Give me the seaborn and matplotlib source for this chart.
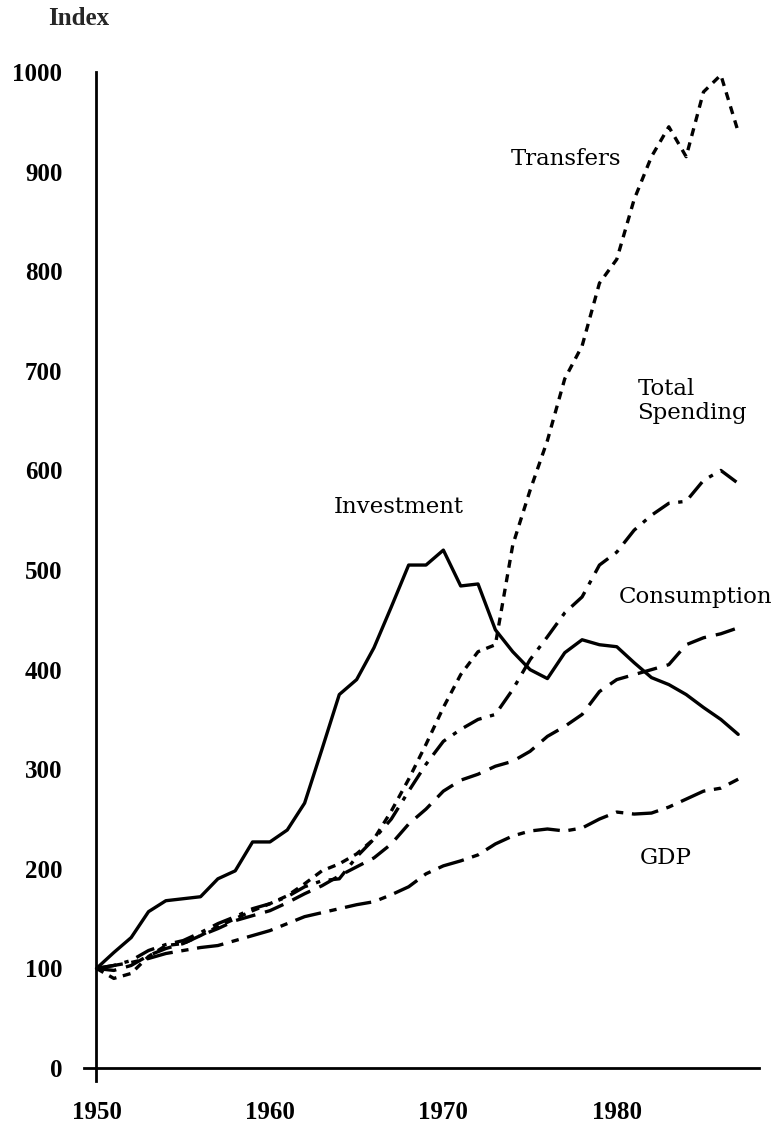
import matplotlib
matplotlib.use("Agg")
import matplotlib.pyplot as plt
import seaborn as sns
import pandas as pd

years = list(range(1950, 1988))

investment = [100, 116, 131, 157, 168, 170, 172, 190, 198, 227,
              227, 239, 266, 320, 375, 390, 422, 463, 505, 505,
              520, 484, 486, 440, 418, 400, 391, 417, 430, 425,
              423, 407, 392, 385, 375, 362, 350, 335]

transfers = [100, 90, 95, 112, 123, 125, 133, 142, 150, 158,
             165, 173, 185, 198, 205, 215, 230, 258, 290, 325,
             362, 395, 418, 425, 525, 580, 630, 692, 725, 788,
             812, 872, 915, 945, 915, 980, 997, 940]

total_spending = [100, 103, 108, 118, 124, 128, 136, 145, 152, 160,
                  165, 172, 182, 188, 190, 212, 230, 250, 278, 305,
                  328, 340, 350, 355, 380, 410, 433, 457, 473, 505,
                  518, 540, 555, 567, 569, 590, 600, 587]

consumption = [100, 98, 103, 113, 120, 125, 133, 140, 148, 153,
               158, 166, 175, 183, 193, 202, 211, 225, 245, 260,
               278, 289, 295, 303, 308, 318, 333, 343, 355, 378,
               390, 395, 400, 405, 425, 432, 436, 442]

gdp = [100, 103, 106, 110, 115, 118, 121, 123, 128, 133,
       138, 145, 152, 156, 160, 164, 167, 174, 182, 195,
       203, 208, 214, 225, 233, 238, 240, 238, 241, 250,
       257, 255, 256, 262, 270, 278, 281, 290]

series_names = ["Investment", "Transfers", "Total Spending", "Consumption", "GDP"]
series_values = [investment, transfers, total_spending, consumption, gdp]

y_ticks = list(range(0, 1001, 100))
x_major = [1950, 1960, 1970, 1980]
x_minor = [1955, 1965, 1975, 1985]

rows = []
for name, vals in zip(series_names, series_values):
    for yr, v in zip(years, vals):
        rows.append({"Year": yr, "Index": v, "Series": name})
df = pd.DataFrame(rows)

sns.set_theme(style="white")
plt.rcParams["font.family"] = ["DejaVu Serif"]

fig = plt.figure(figsize=(7.75, 11.27), dpi=100)
ax = fig.add_axes([84 / 775, 46 / 1127, 675 / 775, 1009 / 1127])

dash_map = {
    "Investment": "",
    "Transfers": (2.4, 2.0),
    "Total Spending": (6, 2.6, 1.3, 2.6),
    "Consumption": (6, 3),
    "GDP": (8, 2.6, 2.2, 2.6),
}

sns.lineplot(data=df, x="Year", y="Index", style="Series", dashes=dash_map,
             color="black", linewidth=2.4, legend=False, ax=ax,
             style_order=series_names)

ax.set_xlim(1949.28, 1988.2)
ax.set_ylim(-13, 1000)
for s in ["top", "right"]:
    ax.spines[s].set_visible(False)
ax.spines["left"].set_position(("data", 1950))
ax.spines["bottom"].set_position(("data", 0))
for s in ["left", "bottom"]:
    ax.spines[s].set_linewidth(2.0)
    ax.spines[s].set_color("black")

ax.set_yticks(y_ticks)
ax.set_yticklabels([str(t) for t in y_ticks])
ax.set_xticks(x_major)
ax.set_xticklabels([str(t) for t in x_major])
ax.set_xticks(x_minor, minor=True)

ax.tick_params(axis="y", which="major", direction="inout", length=15, width=2,
               pad=17, colors="black")
ax.tick_params(axis="x", which="both", direction="inout", length=16, width=2,
               pad=16, colors="black")
tick_font = {"family": "Liberation Serif", "weight": "bold", "size": 18}
for lab in ax.get_yticklabels() + ax.get_xticklabels():
    lab.set_fontfamily("Liberation Serif")
    lab.set_fontweight("bold")
    lab.set_fontsize(18)

ax.set_xlabel("")
ax.set_ylabel("")
ax.grid(False)

lab_kw = dict(fontsize=16.5, family="DejaVu Serif", color="black", ha="left")
ax.text(1973.9, 913, "Transfers", va="center", **lab_kw)
ax.text(1981.2, 693, "Total\nSpending", va="top", linespacing=1.15, **lab_kw)
ax.text(1980.1, 473, "Consumption", va="center", **lab_kw)
ax.text(1963.67, 563, "Investment", va="center", **lab_kw)
ax.text(1981.3, 211, "GDP", va="center", **lab_kw)

fig.text(79 / 775, 1 - 18.5 / 1127, "Index", ha="center", va="center",
         fontdict=tick_font)

fig.savefig("out.png", dpi=100)
